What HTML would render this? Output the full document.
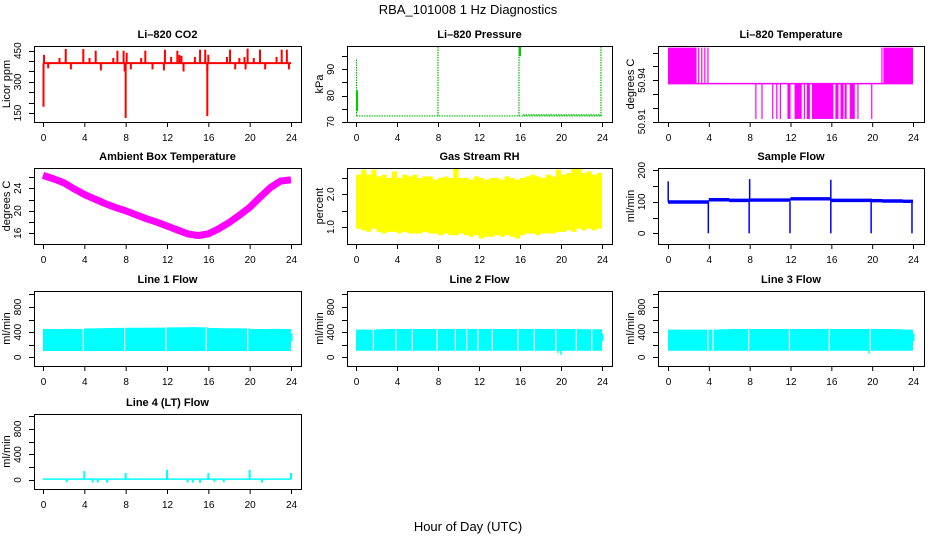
<!DOCTYPE html>
<html><head><meta charset="utf-8"><style>
body{margin:0;background:#fff;}
svg{display:block;font-family:"Liberation Sans",sans-serif;}
</style></head><body>
<svg id="chart" width="936" height="540" viewBox="0 0 936 540" xmlns="http://www.w3.org/2000/svg">
<text x="468" y="14" font-size="13" text-anchor="middle">RBA_101008  1 Hz Diagnostics</text>
<text x="468" y="531" font-size="13" text-anchor="middle">Hour of Day (UTC)</text>
</svg>
<script>
// ---------- data ----------
const xTicks = [0,4,8,12,16,20,24];
// CO2
const co2Base = 390;
const co2SpikeHours = [0.05,0.1,2.2,3.9,5.1,7.2,7.8,9.9,11.8,13.0,15.2,15.7,18.1,19.8,21.0,23.1,23.6,1.6,4.5,6.8,9.5,12.4,13.2,13.4,14.7,17.8,19.0,19.5,20.4,22.6,0.5,2.7,5.6,7.9,8.5,10.6,11.7,13.6,15.9,18.6,19.6,21.5,23.8,8.0,15.9,8.1,16.0];
const co2SpikeValues = [180,430,458,458,450,450,450,450,455,450,455,455,455,460,455,455,455,415,415,415,415,420,430,425,420,420,415,420,415,420,365,360,355,350,360,360,355,350,355,360,360,360,360,126,135,440,430];
// Pressure
const presBase = 72.2;
const presSpikeHours = [0.05,8.0,15.9,23.9];
const presSpikeValues = [94,98.5,99,98.5];
// Li-820 temperature
const tempLevels = [50.912,50.9376,50.9637];
const tempHighIntervals = [[0,2.8],[2.95,3.0],[3.25,3.3],[3.55,3.6],[3.85,3.95],[20.9,20.95],[21.1,21.15],[21.2,24]];
const tempLowIntervals = [[8.55,8.65],[9.15,9.2],[10.2,10.25],[10.6,10.65],[10.95,11.0],[11.7,12.0],[12.4,13.1],[13.3,13.35],[13.6,13.9],[14.1,16.2],[16.4,16.7],[16.9,17.2],[17.3,17.5],[17.8,18.3],[18.55,18.65],[19.9,20.0]];
// Ambient box temperature (hourly)
const ambHours = [0,1,2,3,4,5,6,7,8,9,10,11,12,13,14,15,16,17,18,19,20,21,22,23,24];
const ambValues = [26.3,25.7,25.0,23.9,22.9,22.1,21.3,20.6,20.0,19.3,18.6,18.0,17.3,16.6,15.9,15.6,15.9,16.8,17.9,19.2,20.6,22.4,24.1,25.3,25.5];
// Gas stream RH (half-hourly max/min)
const rhMax = [2.6,2.75,2.6,2.75,2.55,2.6,2.5,2.7,2.5,2.6,2.55,2.6,2.5,2.55,2.55,2.45,2.5,2.55,2.5,2.8,2.5,2.5,2.45,2.55,2.5,2.45,2.5,2.5,2.45,2.55,2.5,2.45,2.5,2.55,2.6,2.55,2.5,2.6,2.55,2.75,2.6,2.65,2.8,2.8,2.65,2.7,2.6,2.65];
const rhMin = [0.95,0.9,0.85,0.95,0.85,0.8,0.85,0.85,0.8,0.85,0.8,0.8,0.8,0.85,0.8,0.8,0.75,0.8,0.75,0.75,0.8,0.75,0.7,0.75,0.65,0.7,0.7,0.75,0.7,0.75,0.7,0.65,0.75,0.8,0.8,0.75,0.8,0.8,0.8,0.85,0.85,0.9,0.85,0.95,0.9,0.95,0.9,0.95];
// Sample flow (hourly level)
const sfLevels = [100,100,100,100,107,107,105,105,106,106,106,106,110,110,110,110,105,105,105,105,104,103,103,102];
const sfDipHours = [3.95,7.95,11.95,15.95,19.9,23.9];
const sfSpikeHours = [0.02,8.0,15.95];
const sfSpikeValues = [165,172,170];
// Line flows
const l1Top = [450,448,452,450,460,462,465,468,470,470,470,472,475,478,480,478,465,462,462,460,450,450,452,450];
const l1Bottom = 100;
const l1Gaps = [3.9,7.9,11.9,15.8,19.8];
const l2Top = [440,440,445,450,450,450,450,450,450,450,450,450,450,450,450,450,450,450,450,450,450,450,445,445];
const l2Bottom = 105;
const l2Gaps = [1.7,3.9,5.5,7.9,9.7,10.8,11.9,13.3,15.8,17.4,19.5,21.5,23.0];
const l3Top = [440,440,440,440,440,445,450,450,450,450,450,450,450,450,450,450,450,450,450,450,450,450,445,440];
const l3Bottom = 105;
const l3Gaps = [3.9,4.4,7.9,11.9,15.8,19.8];
// Line 4 flow
const l4Base = 10;
const l4SpikeHours = [4.0,8.0,12.0,16.0,20.0,24.0,2.3,4.8,5.3,6.2,14.0,14.5,15.2,16.6,17.5,21.2];
const l4SpikeValues = [140,110,160,110,160,110,-35,-40,-40,-40,-40,-40,-45,-30,-35,-40];

// ---------- helpers ----------
const NS = "http://www.w3.org/2000/svg";
const svg = document.getElementById('chart');
function mk(tag, attrs, parent){
  const e = document.createElementNS(NS, tag);
  for (const k in attrs) e.setAttribute(k, attrs[k]);
  (parent||svg).appendChild(e);
  return e;
}
const cols = [{l:34,r:301,x0:43,x24:291},{l:347,r:612,x0:356,x24:602},{l:658,r:924,x0:668,x24:913}];
const rows = [{t:46,b:122},{t:168,b:244},{t:291,b:366},{t:414,b:489}];

function panel(name, title, ylab, col, row, yv0, ypx0, pxPerUnit, ticks, labels, fmt){
  const c = cols[col], r = rows[row];
  const g = mk('g', {});
  
  
  const X = h => c.x0 + (c.x24 - c.x0) * h / 24;
  const Y = v => ypx0 - (v - yv0) * pxPerUnit;
  const clipId = 'clip-' + name;
  const cp = mk('clipPath', {id: clipId}, g);
  mk('rect', {x:c.l, y:r.t, width:c.r-c.l, height:r.b-r.t}, cp);
  const plot = mk('g', {'clip-path':'url(#' + clipId + ')'}, g);
  
  
  // box
  const box = mk('rect', {x:c.l+0.5, y:r.t+0.5, width:c.r-c.l, height:r.b-r.t, fill:'none', stroke:'#000', 'stroke-width':1}, g);
  
  
  // title
  const tt = mk('text', {x:(c.l+c.r)/2, y:r.t-8, 'font-size':11, 'font-weight':'bold', 'text-anchor':'middle'}, g);
  tt.textContent = title;
  
  
  // x axis
  const xa = mk('g', {}, g);
  
  
  mk('line', {x1:X(0), x2:X(24), y1:r.b+0.5, y2:r.b+0.5, stroke:'#000'}, xa);
  xTicks.forEach(h => {
    mk('line', {x1:X(h)+0.5, x2:X(h)+0.5, y1:r.b, y2:r.b+5, stroke:'#000'}, xa);
    const t = mk('text', {x:X(h)+0.5, y:r.b+19, 'font-size':10, 'text-anchor':'middle'}, xa);
    t.textContent = h;
    
    
  });
  // y axis
  const ya = mk('g', {}, g);
  
  
  mk('line', {x1:c.l+0.5, x2:c.l+0.5, y1:Y(ticks[0]), y2:Y(ticks[ticks.length-1]), stroke:'#000'}, ya);
  ticks.forEach(v => {
    const y = Math.round(Y(v)) + 0.5;
    mk('line', {x1:c.l-5, x2:c.l, y1:y, y2:y, stroke:'#000'}, ya);
  });
  labels.forEach(v => {
    const y = Y(v), x = c.l - 13;
    const t = mk('text', {x:x, y:y, 'font-size':10, 'text-anchor':'middle', transform:'rotate(-90 ' + x + ' ' + y + ')'}, ya);
    t.textContent = fmt ? fmt(v) : v;
    
    
  });
  const yt = mk('text', {x:c.l-24, y:(r.t+r.b)/2, 'font-size':11, 'text-anchor':'middle', transform:'rotate(-90 ' + (c.l-24) + ' ' + ((r.t+r.b)/2) + ')'}, ya);
  yt.textContent = ylab;
  
  
  return {X, Y, plot};
}
function range(a,b,s){const o=[];for(let v=a;v<=b+1e-9;v+=s)o.push(+v.toFixed(4));return o;}
function band(p, tops, bottoms, color, name){
  // step band with n equal bins over 0..24
  const n = tops.length, w = 24/n;
  let pts = [];
  for (let i=0;i<n;i++){ pts.push([p.X(i*w), p.Y(tops[i])]); pts.push([p.X((i+1)*w), p.Y(tops[i])]); }
  for (let i=n-1;i>=0;i--){ const b = Array.isArray(bottoms)?bottoms[i]:bottoms; pts.push([p.X((i+1)*w), p.Y(b)]); pts.push([p.X(i*w), p.Y(b)]); }
  const e = mk('polygon', {points: pts.map(q=>q.join(',')).join(' '), fill:color}, p.plot);
  
  
}
function vseg(p, h, v1, v2, color, w, name, dash){
  const a = {x1:p.X(h), x2:p.X(h), y1:p.Y(v1), y2:p.Y(v2), stroke:color, 'stroke-width':w};
  if (dash) a['stroke-dasharray'] = dash;
  const e = mk('line', a, p.plot);
  
  
}
function hseg(p, h1, h2, v, color, w, name, dash){
  const a = {x1:p.X(h1), x2:p.X(h2), y1:p.Y(v), y2:p.Y(v), stroke:color, 'stroke-width':w};
  if (dash) a['stroke-dasharray'] = dash;
  const e = mk('line', a, p.plot);
  
  
}

// ---------- panels ----------
// CO2
let p = panel('co2', 'Li\u2013820 CO2', 'Licor ppm', 0, 0, 150, 113, 0.2077, range(150,450,50), [150,300,450]);
hseg(p, 0, 24, co2Base, '#f00', 2, 'co2-baseline');
co2SpikeHours.forEach((h,i) => vseg(p, h, co2Base, co2SpikeValues[i], '#f00', 2, 'co2-spike'));

// Pressure
p = panel('pressure', 'Li\u2013820 Pressure', 'kPa', 1, 0, 70, 121.7, 2.617, range(70,95,5), [70,80,90]);
hseg(p, 0.05, 24, presBase, '#0b0', 1.2, 'pressure-baseline', '1.5,1');
presSpikeHours.forEach((h,i) => vseg(p, h, presBase, presSpikeValues[i], '#0b0', 1.2, 'pressure-spike', '1.5,1'));
vseg(p, 0.1, 74, 82, '#0c0', 2, 'pressure-spike');
vseg(p, 16.0, 95, 99, '#0c0', 2, 'pressure-spike');
hseg(p, 16.3, 23.9, presBase+0.4, '#0b0', 1.2, 'pressure-baseline', '1.5,1');

// Li-820 Temperature
p = panel('li820-temp', 'Li\u2013820 Temperature', 'degrees C', 2, 0, 50.91, 121.7, 1380, range(50.91,50.96,0.01), [50.91,50.94], v=>v.toFixed(2));
hseg(p, 0, 24, tempLevels[1], '#f0f', 1.5, 'temp-mid-level');
tempHighIntervals.forEach(iv => {
  const e = mk('rect', {x:p.X(iv[0]), y:p.Y(tempLevels[2]), width:Math.max(1.2,p.X(iv[1])-p.X(iv[0])), height:p.Y(tempLevels[1])-p.Y(tempLevels[2]), fill:'#f0f'}, p.plot);
  
  
});
tempLowIntervals.forEach(iv => {
  const e = mk('rect', {x:p.X(iv[0]), y:p.Y(tempLevels[1]), width:Math.max(1.2,p.X(iv[1])-p.X(iv[0])), height:p.Y(tempLevels[0])-p.Y(tempLevels[1]), fill:'#f0f'}, p.plot);
  
  
});

// Ambient box temperature
p = panel('ambient-temp', 'Ambient Box Temperature', 'degrees C', 0, 1, 16, 233.3, 5.625, range(16,26,2), [16,20,24]);
{
  const pts = ambHours.map((h,i)=>p.X(h)+','+p.Y(ambValues[i])).join(' ');
  const e = mk('polyline', {points:pts, fill:'none', stroke:'#f0f', 'stroke-width':7, 'stroke-linejoin':'round'}, p.plot);
  
  
}

// Gas stream RH
p = panel('gas-rh', 'Gas Stream RH', 'percent', 1, 1, 1.0, 227, 32.7, range(1,2.5,0.5), [1.0,2.0], v=>v.toFixed(1));
band(p, rhMax, rhMin, '#ff0', 'rh-band');

// Sample flow
p = panel('sample-flow', 'Sample Flow', 'ml/min', 2, 1, 0, 233.3, 0.315, range(0,200,50), [0,100,200]);
band(p, sfLevels.map(v=>v+5), sfLevels.map(v=>v-6), '#00f', 'sample-flow-band');
sfDipHours.forEach(h => vseg(p, h, 100, 0, '#00f', 1.5, 'sample-flow-dip'));
sfSpikeHours.forEach((h,i) => vseg(p, h, 100, sfSpikeValues[i], '#00f', 1.5, 'sample-flow-spike'));

// Line flows
function flowPanel(name, title, col, tops, bottom, gaps){
  const q = panel(name, title, 'ml/min', col, 2, 0, 357.3, 0.0629, range(0,1000,200), [0,400,800]);
  band(q, tops, bottom, '#0ff', name + '-band');
  gaps.forEach(h => vseg(q, h, bottom, 480, '#fff', 1.2, name + '-gap'));
  vseg(q, 24.05, bottom+150, 380, '#0ff', 2, name + '-tail');
  return q;
}
flowPanel('line1-flow', 'Line 1 Flow', 0, l1Top, l1Bottom, l1Gaps);
p = flowPanel('line2-flow', 'Line 2 Flow', 1, l2Top, l2Bottom, l2Gaps);
vseg(p, 20.0, 105, 40, '#0ff', 1.5, 'line2-dip');
vseg(p, 19.7, 105, 70, '#0ff', 1.5, 'line2-dip');
p = flowPanel('line3-flow', 'Line 3 Flow', 2, l3Top, l3Bottom, l3Gaps);
vseg(p, 19.7, 105, 60, '#0ff', 1.5, 'line3-dip');

// Line 4
p = panel('line4-flow', 'Line 4 (LT) Flow', 'ml/min', 0, 3, 0, 480, 0.0638, range(0,1000,200), [0,400,800]);
band(p, [l4Base+15], l4Base-8, '#0ff', 'line4-band');
l4SpikeHours.forEach((h,i) => vseg(p, h, l4Base, l4SpikeValues[i], '#0ff', 2, 'line4-spike'));
</script>
</body></html>
